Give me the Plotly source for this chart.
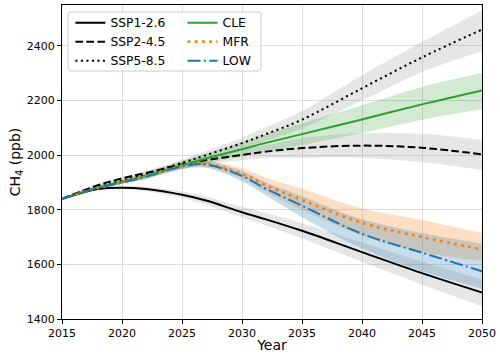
import plotly.graph_objects as go

years = [2015, 2018, 2020, 2022, 2025, 2027, 2030, 2032, 2035, 2040, 2045, 2050]

# central estimates (ppb)
ssp126 = [1840, 1876, 1881, 1876, 1855, 1834, 1791, 1765, 1723, 1645, 1568, 1497]
ssp245 = [1840, 1890, 1915, 1935, 1966, 1982, 2001, 2013, 2026, 2035, 2027, 2003]
ssp585 = [1840, 1885, 1907, 1930, 1972, 2000, 2044, 2077, 2130, 2245, 2358, 2460]
cle = [1840, 1882, 1903, 1925, 1963, 1988, 2022, 2045, 2077, 2131, 2186, 2237]
mfr = [1840, 1880, 1900, 1922, 1960, 1968, 1932, 1890, 1836, 1752, 1700, 1655]
low = [1840, 1880, 1900, 1921, 1959, 1966, 1924, 1877, 1815, 1712, 1643, 1575]

# uncertainty ranges
ssp126_lo = [1840, 1872, 1875, 1868, 1843, 1819, 1771, 1742, 1695, 1610, 1526, 1447]
ssp126_hi = [1840, 1880, 1887, 1884, 1867, 1849, 1811, 1788, 1751, 1680, 1610, 1545]
ssp245_lo = [1840, 1886, 1909, 1927, 1954, 1967, 1981, 1990, 1990, 1990, 1975, 1946]
ssp245_hi = [1840, 1894, 1921, 1943, 1978, 1997, 2021, 2036, 2062, 2080, 2078, 2056]
ssp585_lo = [1840, 1881, 1901, 1922, 1960, 1985, 2024, 2052, 2098, 2200, 2305, 2381]
ssp585_hi = [1840, 1889, 1913, 1938, 1984, 2015, 2064, 2102, 2162, 2293, 2415, 2530]
cle_lo = [1840, 1878, 1896, 1915, 1948, 1970, 1996, 2013, 2037, 2081, 2130, 2168]
cle_hi = [1840, 1886, 1910, 1935, 1978, 2006, 2048, 2077, 2117, 2183, 2250, 2302]
mfr_lo = [1840, 1877, 1895, 1914, 1950, 1956, 1914, 1864, 1800, 1705, 1645, 1612]
mfr_hi = [1840, 1883, 1905, 1930, 1970, 1980, 1953, 1917, 1877, 1805, 1763, 1715]
low_lo = [1840, 1877, 1895, 1913, 1949, 1954, 1904, 1852, 1773, 1658, 1575, 1511]
low_hi = [1840, 1883, 1905, 1929, 1969, 1978, 1942, 1900, 1850, 1765, 1715, 1676]

x_ticks = [2015, 2020, 2025, 2030, 2035, 2040, 2045, 2050]
y_ticks = [1400, 1600, 1800, 2000, 2200, 2400]

fig = go.Figure()

bands = [
    (ssp126_lo, ssp126_hi, 'rgba(128,128,128,0.2)'),
    (ssp245_lo, ssp245_hi, 'rgba(128,128,128,0.2)'),
    (ssp585_lo, ssp585_hi, 'rgba(128,128,128,0.2)'),
    (cle_lo, cle_hi, 'rgba(44,160,44,0.22)'),
    (mfr_lo, mfr_hi, 'rgba(255,127,14,0.25)'),
    (low_lo, low_hi, 'rgba(31,119,180,0.25)'),
]
for lo, hi, col in bands:
    fig.add_trace(go.Scatter(x=years, y=lo, mode='lines', line=dict(width=0, shape='spline'),
                             showlegend=False, hoverinfo='skip'))
    fig.add_trace(go.Scatter(x=years, y=hi, mode='lines', line=dict(width=0, shape='spline'),
                             fill='tonexty', fillcolor=col, showlegend=False, hoverinfo='skip'))

lines = [
    ('SSP1-2.6', ssp126, 'black', 2, 'solid', 'legend'),
    ('SSP2-4.5', ssp245, 'black', 2, '7.7px,3.3px', 'legend'),
    ('SSP5-8.5', ssp585, 'black', 2, '2.1px,3.4px', 'legend'),
    ('CLE', cle, '#2ca02c', 2, 'solid', 'legend2'),
    ('MFR', mfr, '#ff7f0e', 2.8, '2.8px,4.4px', 'legend2'),
    ('LOW', low, '#1f77b4', 2, '13px,3.3px,2.1px,3.3px', 'legend2'),
]
for name, y, col, w, dash, leg in lines:
    fig.add_trace(go.Scatter(x=years, y=y, mode='lines', name=name, legend=leg,
                             line=dict(color=col, width=w, dash=dash, shape='spline')))

# rounded legend frame
x0, x1, y0, y1 = 0.0143, 0.4738, 0.7898, 0.9777
rx, ry = 0.0072, 0.0096
path = (f"M {x0+rx},{y1} L {x1-rx},{y1} Q {x1},{y1} {x1},{y1-ry} "
        f"L {x1},{y0+ry} Q {x1},{y0} {x1-rx},{y0} L {x0+rx},{y0} "
        f"Q {x0},{y0} {x0},{y0+ry} L {x0},{y1-ry} Q {x0},{y1} {x0+rx},{y1} Z")
fig.add_shape(type='path', path=path, xref='paper', yref='paper', layer='above',
              line=dict(color='rgb(204,204,204)', width=1), fillcolor='rgba(255,255,255,0.8)')

font = 'DejaVu Sans'
leg_style = dict(yanchor='top', xanchor='left', bgcolor='rgba(0,0,0,0)', traceorder='normal',
                 font=dict(size=12.3), tracegroupgap=0, itemwidth=30)
fig.update_layout(
    width=500, height=360,
    margin=dict(l=62, r=18, t=5, b=41),
    paper_bgcolor='white', plot_bgcolor='white',
    font=dict(family=font, size=11, color='black'),
    legend=dict(x=0.02, y=0.99, **leg_style),
    legend2=dict(x=0.287, y=0.99, **leg_style),
    xaxis=dict(range=[2015, 2050], tickvals=x_ticks, showgrid=True, gridcolor='rgb(220,220,220)',
               gridwidth=1, showline=True, linecolor='black', linewidth=1, mirror=True,
               ticks='outside', ticklen=4, tickcolor='black', zeroline=False,
               title=dict(text='Year', font=dict(size=14), standoff=0)),
    yaxis=dict(range=[1400, 2550], tickvals=y_ticks, showgrid=True, gridcolor='rgb(220,220,220)',
               gridwidth=1, showline=True, linecolor='black', linewidth=1, mirror=True,
               ticks='outside', ticklen=4, tickcolor='black', zeroline=False,
               title=dict(text='CH<sub>4</sub> (ppb)', font=dict(size=14), standoff=2)),
)

fig.write_html("out.html", config={'displayModeBar': False},
               post_script="document.body.style.margin='0px';")
